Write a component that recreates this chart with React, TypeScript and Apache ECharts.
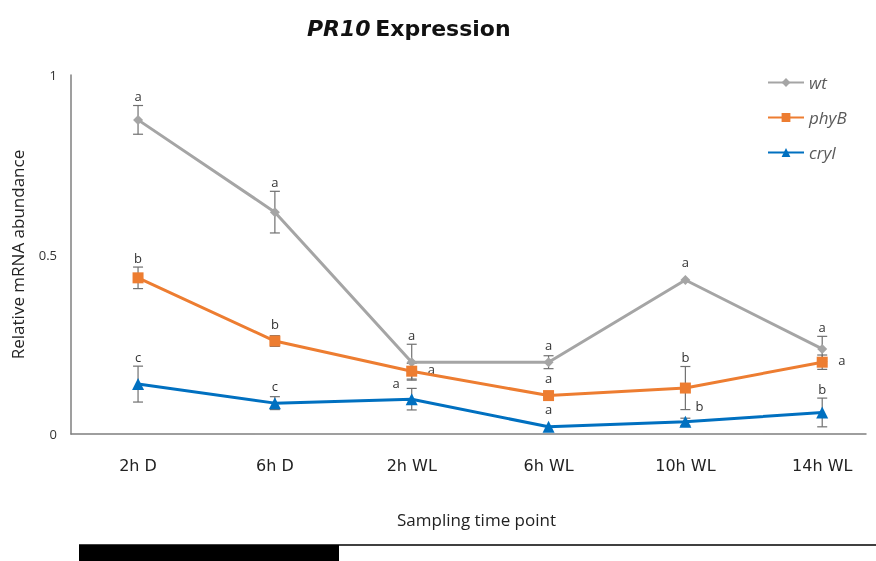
import React, { useEffect, useRef } from "react";
import * as echarts from "echarts";

const categories = ["2h D", "6h D", "2h WL", "6h WL", "10h WL", "14h WL"];
const seriesNames = ["wt", "phyB", "cryI"];

const wtValues = [0.875, 0.618, 0.2, 0.2, 0.429, 0.237];
const wtErrors = [0.04, 0.058, 0.05, 0.018, 0, 0.035];
const wtLetters = ["a", "a", "a", "a", "a", "a"];

const phyBValues = [0.435, 0.259, 0.175, 0.107, 0.128, 0.2];
const phyBErrors = [0.03, 0.015, 0.022, 0.006, 0.06, 0.02];
const phyBLetters = ["b", "b", "a", "a", "b", "a"];

const cryIValues = [0.139, 0.086, 0.097, 0.02, 0.034, 0.06];
const cryIErrors = [0.05, 0.018, 0.03, 0.004, 0.01, 0.04];
const cryILetters = ["c", "c", "a", "a", "b", "b"];

const yTicks = [0, 0.5, 1];

// label placement (style, not data)
const wtPlace = ["top", "top", "top", "top", "top", "top"];
const phyBPlace = ["top", "top", "right", "top", "top", "right"];
const cryIPlace = ["top", "top", "upleft", "top", "upright", "top"];

const colors = ["#A5A5A5", "#ED7D31", "#0070C0"];
const symbols = ["diamond", "rect", "triangle"];
const symbolSizes = [10, 11, 12];

export default function App() {
  const ref = useRef<HTMLDivElement>(null);
  useEffect(() => {
    if (!ref.current) return;
    const chart = echarts.init(ref.current, null, { renderer: "svg" });
    const values = [wtValues, phyBValues, cryIValues];
    const errors = [wtErrors, phyBErrors, cryIErrors];
    const letters = [wtLetters, phyBLetters, cryILetters];
    const places = [wtPlace, phyBPlace, cryIPlace];

    const lineSeries = seriesNames.map((name, s) => ({
      name,
      type: "line",
      data: values[s].map((v, i) => [i, v]),
      symbol: symbols[s],
      symbolSize: symbolSizes[s],
      showAllSymbol: true,
      lineStyle: { color: colors[s], width: 3 },
      itemStyle: { color: colors[s] },
      z: 3,
    }));

    const errSeries = seriesNames.map((name, s) => ({
      name: name + "-err",
      type: "custom",
      z: 2,
      data: values[s].map((v, i) => [i, v, errors[s][i], i]),
      renderItem: (params: any, api: any) => {
        const x = api.value(0);
        const y = api.value(1);
        const e = api.value(2);
        const idx = api.value(3);
        const p = api.coord([x, y]);
        const pt = api.coord([x, y + e]);
        const pb = api.coord([x, y - e]);
        const children: any[] = [];
        const st = { stroke: "#707070", lineWidth: 1.2 };
        if (e > 0.005) {
          children.push({ type: "line", shape: { x1: p[0], y1: pt[1], x2: p[0], y2: pb[1] }, style: st });
          children.push({ type: "line", shape: { x1: p[0] - 5, y1: pt[1], x2: p[0] + 5, y2: pt[1] }, style: st });
          children.push({ type: "line", shape: { x1: p[0] - 5, y1: pb[1], x2: p[0] + 5, y2: pb[1] }, style: st });
        }
        const place = places[s][idx];
        let tx = p[0], ty = p[1], align = "center", va = "bottom";
        if (place === "top") {
          ty = Math.min(pt[1], p[1] - 8) - 3;
        } else if (place === "right") {
          tx = p[0] + 16; ty = p[1] - 2; align = "left"; va = "middle";
        } else if (place === "upright") {
          tx = p[0] + 10; ty = p[1] - 16; align = "left"; va = "middle";
        } else if (place === "upleft") {
          tx = p[0] - 12; ty = p[1] - 16; align = "right"; va = "middle";
        }
        children.push({
          type: "text",
          x: tx,
          y: ty,
          style: {
            text: letters[s][idx],
            fill: "#333",
            font: "13px 'Open Sans', sans-serif",
            align,
            verticalAlign: va,
          },
        });
        return { type: "group", children };
      },
    }));

    chart.setOption({
      animation: false,
      textStyle: { fontFamily: "'Open Sans', sans-serif" },
      title: {
        text: "{i|PR10} {b|Expression}",
        left: 302,
        top: 12,
        textStyle: {
          rich: {
            i: { fontSize: 22, fontWeight: "bold", fontStyle: "italic", color: "#111", fontFamily: "'DejaVu Sans', sans-serif" },
            b: { fontSize: 22, fontWeight: "bold", color: "#111", fontFamily: "'DejaVu Sans', sans-serif" },
          },
        },
      },
      legend: {
        data: seriesNames,
        orient: "vertical",
        left: 762,
        top: 69,
        itemGap: 18,
        itemWidth: 36,
        itemHeight: 11,
        textStyle: { color: "#595959", fontSize: 17, fontStyle: "italic" },
      },
      grid: { left: 71, right: 10, top: 75, bottom: 127 },
      xAxis: {
        type: "value",
        min: -0.49,
        max: 5.32,
        splitLine: { show: false },
        axisLine: { show: true, onZero: false, lineStyle: { color: "#7f7f7f", width: 1.5 } },
        axisTick: { show: false },
        axisLabel: {
          customValues: [0, 1, 2, 3, 4, 5],
          formatter: (v: number) => categories[Math.round(v)] ?? "",
          margin: 23,
          fontSize: 16,
          color: "#222",
          fontFamily: "'DejaVu Sans', sans-serif",
        },
      },
      yAxis: {
        type: "value",
        min: 0,
        max: 1,
        interval: 0.5,
        name: "Relative mRNA abundance",
        nameLocation: "middle",
        nameGap: 45,
        nameRotate: 90,
        nameTextStyle: { fontSize: 17, color: "#222" },
        splitLine: { show: false },
        axisLine: { show: true, onZero: false, lineStyle: { color: "#7f7f7f", width: 1.5 } },
        axisTick: { show: false },
        axisLabel: {
          customValues: yTicks,
          formatter: (v: number) => String(v),
          margin: 14,
          fontSize: 13,
          color: "#333",
        },
      },
      graphic: [
        {
          type: "text",
          left: 397,
          top: 511,
          style: { text: "Sampling time point", font: "17px 'Open Sans', sans-serif", fill: "#222" },
        },
        { type: "line", shape: { x1: 79, y1: 545, x2: 876, y2: 545 }, style: { stroke: "#000", lineWidth: 1.5 } },
        { type: "rect", shape: { x: 79, y: 545, width: 260, height: 16 }, style: { fill: "#000" } },
      ],
      series: [...errSeries, ...lineSeries],
    });
    return () => chart.dispose();
  }, []);
  return <div ref={ref} style={{ position: "fixed", left: 0, top: 0, width: 876, height: 561 }} />;
}
